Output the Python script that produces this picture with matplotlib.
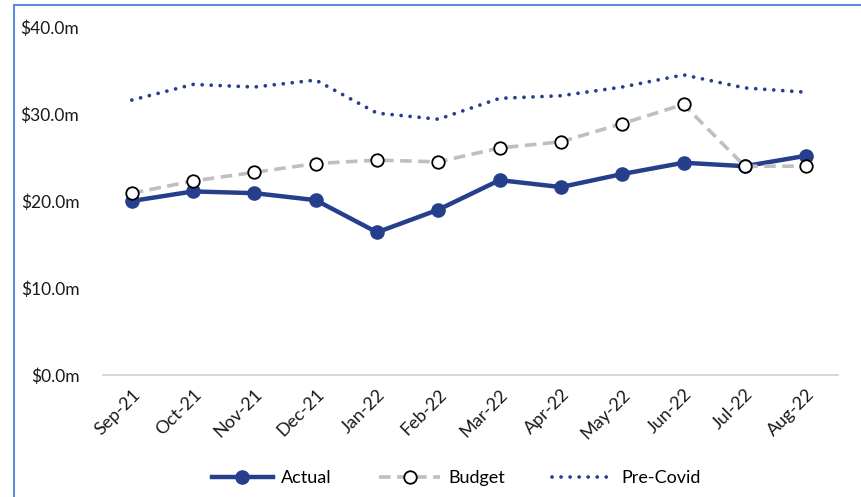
import matplotlib.pyplot as plt
from matplotlib.patches import Rectangle

months = ['Sep-21', 'Oct-21', 'Nov-21', 'Dec-21', 'Jan-22', 'Feb-22',
          'Mar-22', 'Apr-22', 'May-22', 'Jun-22', 'Jul-22', 'Aug-22']
actual = [20.0, 21.1, 20.9, 20.1, 16.4, 19.0, 22.4, 21.6, 23.1, 24.4, 24.0, 25.2]
budget = [20.9, 22.3, 23.3, 24.3, 24.7, 24.5, 26.1, 26.8, 28.9, 31.1, 24.0, 24.0]
pre_covid = [31.6, 33.4, 33.1, 33.9, 30.1, 29.4, 31.8, 32.1, 33.1, 34.5, 33.0, 32.5]
yticks = [0, 10, 20, 30, 40]

plt.rcParams['font.family'] = ['Lato', 'DejaVu Sans']

fig = plt.figure(figsize=(8.61, 4.97), dpi=100)
ax = fig.add_axes([103 / 861, 1 - 375 / 497, (838 - 103) / 861, (375 - 27) / 497])

# blue frame on the left and top edge, as in the screenshot
fig.patches.append(Rectangle((14 / 861, -0.1), 1.2, 1 - 5 / 497 + 0.1,
                             transform=fig.transFigure, fill=False,
                             edgecolor='#5B8BD9', linewidth=1.5))

x = list(range(len(months)))
navy = '#263F8C'
ax.plot(x, pre_covid, color=navy, linestyle=(0, (0.01, 2.4)), linewidth=2.7,
        dash_capstyle='round', label='Pre-Covid', zorder=2)
ax.plot(x, budget, color='#BFBFBF', linestyle=(0, (3.2, 1.8)), linewidth=2.6,
        marker='o', markersize=9, markerfacecolor='white',
        markeredgecolor='black', markeredgewidth=1.3, label='Budget', zorder=4)
ax.plot(x, actual, color=navy, linewidth=3.2, marker='o', markersize=9.5,
        label='Actual', zorder=3)

ax.set_xlim(-0.47, 11.52)
ax.set_ylim(0, 40)
ax.set_yticks(yticks)
ax.set_yticklabels([f'${v:.1f}m' for v in yticks], fontsize=12.5, color='#1a1a1a')
ax.set_xticks(x)
ax.set_xticklabels(months, rotation=45, ha='right', rotation_mode='anchor',
                   fontsize=13, color='#1a1a1a')
ax.tick_params(length=0, pad=17, axis='y')
ax.tick_params(length=0, pad=8, axis='x')
for side in ['top', 'right', 'left']:
    ax.spines[side].set_visible(False)
ax.spines['bottom'].set_color('#D0D0D0')
ax.spines['bottom'].set_linewidth(1.2)

handles, labels = ax.get_legend_handles_labels()
order = [2, 1, 0]
fig.legend([handles[i] for i in order], [labels[i] for i in order],
           loc='center', bbox_to_anchor=(0.53, 1 - 478 / 497), ncol=3,
           frameon=False, fontsize=13, handlelength=3.4, handletextpad=0.45,
           columnspacing=2.6)

fig.savefig('out.png', dpi=100)
